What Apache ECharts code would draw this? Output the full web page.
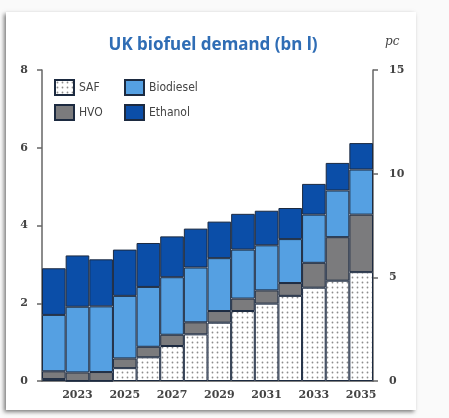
<!DOCTYPE html>
<html>
<head>
<meta charset="utf-8">
<script src="https://cdn.jsdelivr.net/npm/echarts@6/dist/echarts.min.js"></script>
<style>
  html, body { margin: 0; padding: 0; background: #fafafa; }
  #chart { width: 449px; height: 418px; }
</style>
</head>
<body>
<div id="chart"></div>
<script>
const years = ["2022", "2023", "2024", "2025", "2026", "2027", "2028", "2029", "2030", "2031", "2032", "2033", "2034", "2035"];
const saf = [0.05, 0, 0, 0.33, 0.61, 0.9, 1.2, 1.5, 1.8, 1.99, 2.19, 2.4, 2.58, 2.8];
const hvo = [0.2, 0.22, 0.23, 0.25, 0.27, 0.29, 0.31, 0.3, 0.32, 0.34, 0.33, 0.64, 1.12, 1.48];
const biodiesel = [1.45, 1.69, 1.69, 1.61, 1.54, 1.48, 1.41, 1.36, 1.26, 1.16, 1.13, 1.24, 1.2, 1.16];
const ethanol = [1.2, 1.32, 1.21, 1.19, 1.13, 1.05, 1.0, 0.94, 0.92, 0.89, 0.8, 0.79, 0.71, 0.68];
const leftTicks = { min: 0, max: 8, interval: 2 };
const rightTicks = { min: 0, max: 15, interval: 5 };

// dotted fill for SAF
const dots = document.createElement("canvas");
dots.width = 5;
dots.height = 5;
const dctx = dots.getContext("2d");
dctx.fillStyle = "#ffffff";
dctx.fillRect(0, 0, 5, 5);
dctx.fillStyle = "#8c8c8c";
dctx.beginPath();
dctx.arc(2.5, 2.5, 0.9, 0, Math.PI * 2);
dctx.fill();
const safFill = { image: dots, repeat: "repeat" };

const labelFont = { fontFamily: "DejaVu Serif", fontWeight: "bold", fontSize: 11, color: "#444" };
const legendText = { fontFamily: "DejaVu Sans Condensed, Liberation Sans Narrow, sans-serif", fontSize: 12, color: "#444" };
const border = { borderColor: "#1c2a40", borderWidth: 1 };

const chart = echarts.init(document.getElementById("chart"), null, { renderer: "canvas" });

const barSeries = (name, data, color) => ({
  name,
  type: "bar",
  stack: "total",
  data,
  barCategoryGap: "0%",
  itemStyle: { color, ...border },
  emphasis: { disabled: true },
});

const legendBase = {
  orient: "vertical",
  top: 74,
  icon: "rect",
  itemWidth: 19,
  itemHeight: 15,
  itemGap: 8,
  textStyle: legendText,
  selectedMode: false,
};

chart.setOption({
  animation: false,
  graphic: [
    {
      type: "rect",
      shape: { x: 6, y: 12, width: 410, height: 398 },
      style: { fill: "#ffffff", shadowBlur: 4, shadowColor: "rgba(0,0,0,0.5)", shadowOffsetX: -2, shadowOffsetY: 2 },
      z: -10,
    },
    {
      type: "text",
      left: 385,
      top: 36,
      style: { text: "pc", fontFamily: "DejaVu Serif", fontStyle: "italic", fontSize: 12, fill: "#444" },
    },
  ],
  title: {
    text: "UK biofuel demand (bn l)",
    left: 208,
    textAlign: "center",
    top: 32,
    textStyle: { fontFamily: "Noto Sans", fontWeight: "bold", fontSize: 17, color: "#2f6db5" },
  },
  legend: [
    { ...legendBase, data: ["SAF", "HVO"], left: 49 },
    { ...legendBase, data: ["Biodiesel", "Ethanol"], left: 119 },
  ],
  grid: { left: 42, right: 76, top: 70, bottom: 37 },
  xAxis: {
    type: "category",
    data: years,
    axisLine: { lineStyle: { color: "#555", width: 1.5 } },
    axisTick: { show: false },
    axisLabel: { ...labelFont, margin: 9, interval: (i) => i % 2 === 1 },
  },
  yAxis: [
    {
      type: "value",
      ...leftTicks,
      axisLine: { show: true, lineStyle: { color: "#666", width: 1.5 } },
      axisTick: { show: true, length: 5, lineStyle: { color: "#666", width: 1.5 } },
      splitLine: { show: false },
      axisLabel: { ...labelFont, margin: 14 },
    },
    {
      type: "value",
      position: "right",
      ...rightTicks,
      axisLine: { show: true, lineStyle: { color: "#666", width: 1.5 } },
      axisTick: { show: true, length: 5, lineStyle: { color: "#666", width: 1.5 } },
      splitLine: { show: false },
      axisLabel: { ...labelFont, margin: 16 },
    },
  ],
  series: [
    barSeries("SAF", saf, safFill),
    barSeries("HVO", hvo, "#7b7b7d"),
    barSeries("Biodiesel", biodiesel, "#55a0e2"),
    barSeries("Ethanol", ethanol, "#0b4ea8"),
  ],
});
</script>
</body>
</html>
